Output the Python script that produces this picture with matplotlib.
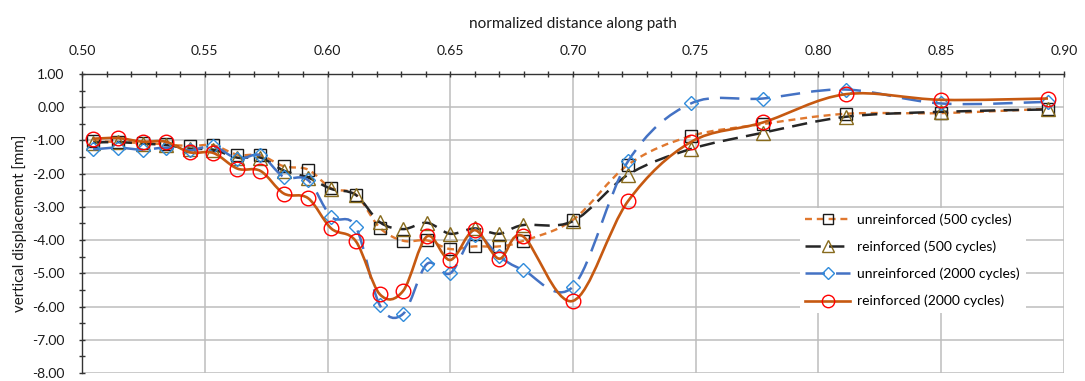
import numpy as np
import matplotlib
matplotlib.use('Agg')
import matplotlib.pyplot as plt
from matplotlib.path import Path
from matplotlib.patches import PathPatch
from matplotlib.lines import Line2D
from matplotlib.ticker import MultipleLocator, FormatStrFormatter

plt.rcParams['font.family'] = ['Lato', 'DejaVu Sans']
plt.rcParams['lines.scale_dashes'] = False

# normalized distance along path (shared by all series)
dist = [0.5045, 0.5146, 0.5247, 0.5341, 0.5440, 0.5535, 0.5633, 0.5727, 0.5822,
        0.5921, 0.6015, 0.6115, 0.6213, 0.6308, 0.6405, 0.6500, 0.6599, 0.6699,
        0.6795, 0.7000, 0.7225, 0.7480, 0.7774, 0.8111, 0.8500, 0.8935]

# vertical displacement [mm]
unreinf_500 = [-1.02, -1.05, -1.08, -1.12, -1.17, -1.15, -1.43, -1.45, -1.78,
               -1.88, -2.44, -2.63, -3.63, -4.02, -4.01, -4.27, -4.19, -4.19,
               -4.03, -3.39, -1.73, -0.87, -0.51, -0.20, -0.18, -0.05]
reinf_500 = [-1.07, -1.05, -1.10, -1.14, -1.25, -1.28, -1.52, -1.52, -1.91,
             -2.12, -2.46, -2.64, -3.46, -3.67, -3.48, -3.81, -3.65, -3.81,
             -3.55, -3.43, -2.03, -1.26, -0.77, -0.29, -0.14, -0.07]
unreinf_2000 = [-1.27, -1.22, -1.28, -1.22, -1.30, -1.18, -1.55, -1.45, -2.10,
                -2.20, -3.30, -3.60, -5.96, -6.22, -4.72, -5.00, -3.85, -4.49,
                -4.89, -5.40, -1.62, 0.11, 0.26, 0.53, 0.11, 0.16]
reinf_2000 = [-0.95, -0.93, -1.04, -1.04, -1.36, -1.38, -1.85, -1.92, -2.60,
              -2.74, -3.65, -4.03, -5.63, -5.53, -3.89, -4.60, -3.70, -4.56,
              -3.88, -5.83, -2.82, -1.05, -0.46, 0.39, 0.22, 0.26]

labels = ['unreinforced (500 cycles)', 'reinforced (500 cycles)',
          'unreinforced (2000 cycles)', 'reinforced (2000 cycles)']


def smooth_path(xs, ys):
    # Excel-style smoothed line: cubic Bezier segments (Catmull-Rom control points)
    pts = np.column_stack([xs, ys])
    n = len(pts)
    verts = [pts[0]]
    codes = [Path.MOVETO]
    for i in range(n - 1):
        p0 = pts[max(i - 1, 0)]
        p1 = pts[i]
        p2 = pts[i + 1]
        p3 = pts[min(i + 2, n - 1)]
        verts += [p1 + (p2 - p0) / 6.0, p2 - (p3 - p1) / 6.0, p2]
        codes += [Path.CURVE4] * 3
    return Path(verts, codes)


series = [
    (unreinf_500, dict(color='#E0782F', lw=1.7, ls=(0, (5, 3.5))),
     dict(marker='s', ms=8.5, mec='#1A1A1A')),
    (reinf_500, dict(color='#262626', lw=1.8, ls=(0, (11, 6))),
     dict(marker='^', ms=9.5, mec='#876A1C')),
    (unreinf_2000, dict(color='#4472C4', lw=1.8, ls=(0, (14, 8))),
     dict(marker='D', ms=7.5, mec='#2F8BDB')),
    (reinf_2000, dict(color='#C65911', lw=1.9, ls='-'),
     dict(marker='o', ms=10.5, mec='#FF0000')),
]

fig = plt.figure(figsize=(10.85, 3.81), dpi=100)
ax = fig.add_axes([0.0756, 0.021, 0.905, 0.785])

handles = []
for k, (vals, lsty, msty) in enumerate(series):
    patch = PathPatch(smooth_path(dist, vals), fill=False, edgecolor=lsty['color'],
                      lw=lsty['lw'], linestyle=lsty['ls'], capstyle='butt',
                      zorder=3 + k)
    ax.add_patch(patch)
    ax.plot(dist, vals, ls='none', marker=msty['marker'], ms=msty['ms'],
            mfc='none', mec=msty['mec'], mew=1.0, zorder=3 + k)
    handles.append(Line2D([], [], color=lsty['color'], lw=lsty['lw'],
                          ls=lsty['ls'], marker=msty['marker'],
                          ms=msty['ms'] * 0.85, mfc='none', mec=msty['mec'],
                          mew=1.0))

ax.set_xlim(0.50, 0.90)
ax.set_ylim(-8.0, 1.0)

# x axis sits at the top
ax.xaxis.tick_top()
ax.xaxis.set_label_position('top')
ax.xaxis.set_major_locator(MultipleLocator(0.05))
ax.xaxis.set_minor_locator(MultipleLocator(0.01))
ax.yaxis.set_major_locator(MultipleLocator(1.0))
ax.yaxis.set_minor_locator(MultipleLocator(0.5))
ax.xaxis.set_major_formatter(FormatStrFormatter('%.2f'))
ax.yaxis.set_major_formatter(FormatStrFormatter('%.2f'))

ax.tick_params(axis='both', which='both', direction='inout', length=5,
               width=1.0, color='#333333', labelsize=10, labelcolor='#1A1A1A')
ax.tick_params(axis='x', which='major', pad=10)
ax.tick_params(axis='y', which='major', pad=10)

ax.set_xlabel('normalized distance along path', fontsize=11, labelpad=12,
              color='#1A1A1A')
ax.set_ylabel('vertical displacement [mm]', fontsize=10.8, labelpad=4,
              color='#1A1A1A')

ax.grid(True, which='major', color='#BDBDBD', lw=1.1)
ax.set_axisbelow(True)
for side in ['right', 'bottom']:
    ax.spines[side].set_visible(False)
for side in ['top', 'left']:
    ax.spines[side].set_color('#333333')
    ax.spines[side].set_linewidth(1.0)

leg = ax.legend(handles, labels, loc='upper left', bbox_to_anchor=(0.731, 0.552),
                borderaxespad=0, borderpad=0.4, fontsize=10, handlelength=3.2,
                handletextpad=0.55, labelspacing=1.05, frameon=True,
                fancybox=False, framealpha=1.0, edgecolor='none',
                facecolor='white')
leg.set_zorder(10)

fig.savefig('out.png', dpi=100, facecolor='white')
